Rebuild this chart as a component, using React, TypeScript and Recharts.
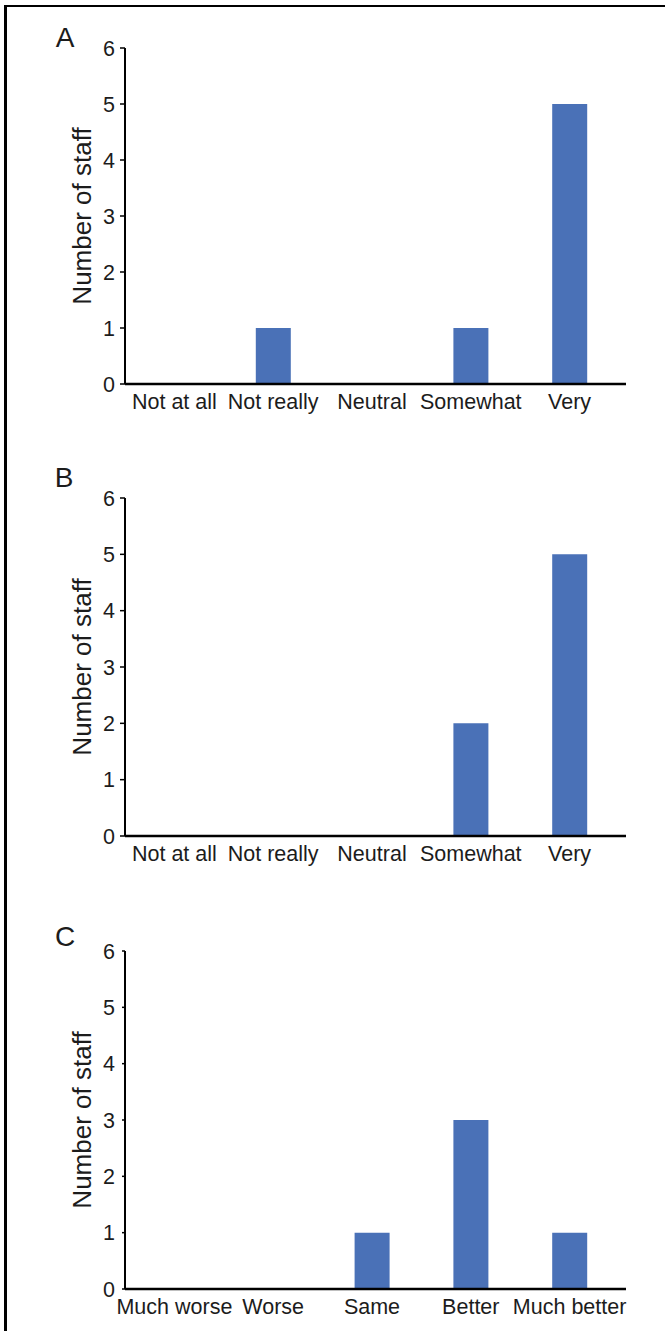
import React from "react";
import { BarChart, Bar, XAxis, YAxis, Label } from "recharts";

const ratingLabels = ["Not at all", "Not really", "Neutral", "Somewhat", "Very"];
const changeLabels = ["Much worse", "Worse", "Same", "Better", "Much better"];

const panelAValues = [0, 1, 0, 1, 5];
const panelBValues = [0, 0, 0, 2, 5];
const panelCValues = [0, 0, 1, 3, 1];

const yTicks = [0, 1, 2, 3, 4, 5, 6];

const FONT = "Arial, 'Liberation Sans', Helvetica, sans-serif";
const BAR_COLOR = "#4a71b7";
const TEXT = "#1c1c1c";

function toRows(labels: string[], values: number[]) {
  return labels.map((name, i) => ({ name, staff: values[i] }));
}

function YTitle(props: any) {
  const vb = props.viewBox || { y: 0, height: 0 };
  const cx = 82;
  const cy = vb.y + vb.height / 2;
  return (
    <text
      x={cx}
      y={cy}
      transform={`rotate(-90, ${cx}, ${cy})`}
      textAnchor="middle"
      dominantBaseline="central"
      fontFamily={FONT}
      fontSize={26}
      fill={TEXT}
    >
      Number of staff
    </text>
  );
}

function Panel({
  labels,
  values,
  top,
  height,
  marginTop,
  tickSize,
}: {
  labels: string[];
  values: number[];
  top: number;
  height: number;
  marginTop: number;
  tickSize: number;
}) {
  const rows = toRows(labels, values);
  return (
    <div style={{ position: "absolute", left: 0, top }}>
      <BarChart
        width={665}
        height={height}
        data={rows}
        margin={{ top: marginTop, right: 39, bottom: 0, left: 0 }}
        barCategoryGap={0}
      >
        <XAxis
          dataKey="name"
          height={30}
          interval={0}
          padding={{ left: 0, right: 7 }}
          tickLine={false}
          tickSize={0}
          tickMargin={10}
          axisLine={{ stroke: "#000", strokeWidth: 2.5 }}
          tick={{ fontFamily: FONT, fontSize: 21.5, fill: TEXT }}
        />
        <YAxis
          width={125}
          domain={[0, 6]}
          ticks={yTicks}
          interval={0}
          allowDecimals={false}
          tickSize={tickSize}
          tickMargin={10 - tickSize}
          tickLine={{ stroke: "#000", strokeWidth: 1.5 }}
          axisLine={{ stroke: "#000", strokeWidth: 2 }}
          tick={{ fontFamily: FONT, fontSize: 21.5, fill: TEXT }}
          label={<Label content={<YTitle />} />}
        />
        <Bar dataKey="staff" fill={BAR_COLOR} barSize={35} isAnimationActive={false} />
      </BarChart>
    </div>
  );
}

export default function App() {
  return (
    <div
      style={{
        position: "absolute",
        left: 0,
        top: 0,
        width: 665,
        height: 1331,
        background: "#fff",
        overflow: "hidden",
      }}
    >
      <div
        style={{
          position: "absolute",
          left: 4,
          top: 5,
          width: 700,
          height: 1400,
          borderLeft: "3px solid #000",
          borderTop: "2px solid #000",
        }}
      />
      <Panel labels={ratingLabels} values={panelAValues} top={0} height={414} marginTop={48} tickSize={5} />
      <Panel labels={ratingLabels} values={panelBValues} top={450} height={416} marginTop={48} tickSize={5} />
      <Panel labels={changeLabels} values={panelCValues} top={902} height={417} marginTop={49} tickSize={3} />
      <svg
        width={665}
        height={1331}
        style={{ position: "absolute", left: 0, top: 0, pointerEvents: "none" }}
      >
        <text x={65} y={47} textAnchor="middle" fontFamily={FONT} fontSize={28} fill={TEXT}>
          A
        </text>
        <text x={64} y={487} textAnchor="middle" fontFamily={FONT} fontSize={28} fill={TEXT}>
          B
        </text>
        <text x={65} y={946} textAnchor="middle" fontFamily={FONT} fontSize={28} fill={TEXT}>
          C
        </text>
      </svg>
    </div>
  );
}
